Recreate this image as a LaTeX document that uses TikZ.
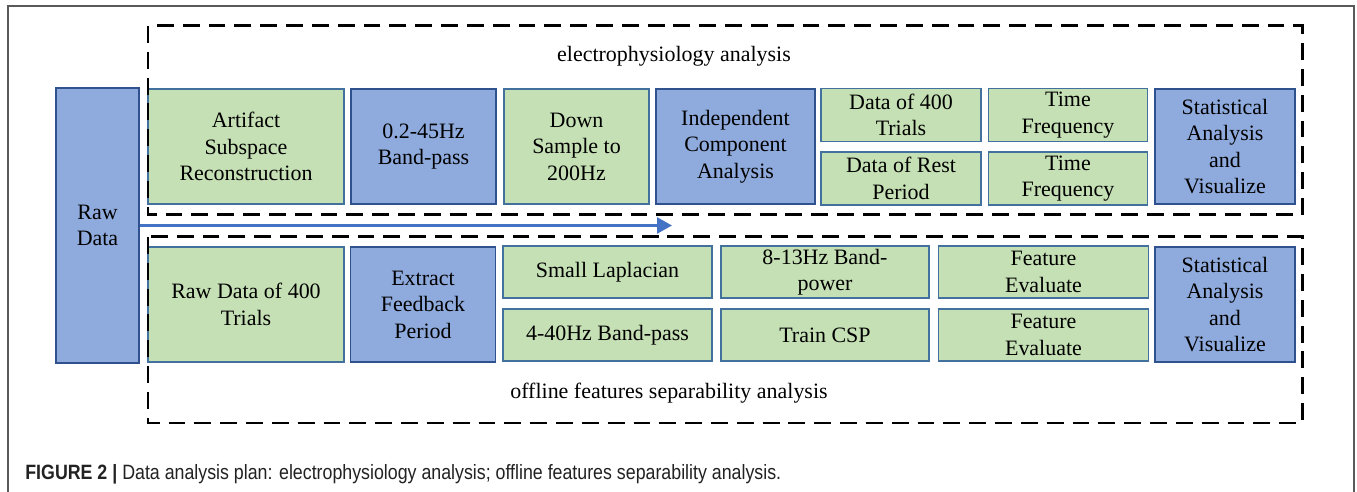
\documentclass[tikz,border=0pt]{standalone}
\usepackage{fontspec}
\setmainfont{Liberation Serif}
\newfontfamily\capfont{Liberation Sans}
\usetikzlibrary{arrows.meta}

\definecolor{boxblue}{HTML}{8FAADC}
\definecolor{edgeblue}{HTML}{2F528F}
\definecolor{boxgreen}{HTML}{C5E0B4}
\definecolor{edgegreen}{HTML}{41719C}
\definecolor{arrowblue}{HTML}{4472C4}
\definecolor{framegray}{HTML}{5A5A5A}
\definecolor{capgray}{HTML}{222222}

\tikzset{
  proc/.style={draw, line width=1.1pt, inner sep=0pt, align=center,
    font=\rmfamily\fontsize{12.5}{15.1}\selectfont},
  bluebox/.style={proc, fill=boxblue, draw=edgeblue},
  greenbox/.style={proc, fill=boxgreen, draw=edgegreen},
  groupbox/.style={line width=1.7pt, dash pattern=on 9.6pt off 5.1pt},
  grouplabel/.style={font=\rmfamily\fontsize{12.5}{15.1}\selectfont},
  flowarrow/.style={arrowblue, line width=1.7pt, -{Triangle[length=8.5pt,width=9pt]}}
}

\begin{document}
\begin{tikzpicture}[x=0.02cm,y=-0.02cm]
\useasboundingbox (0,0) rectangle (1357,492);
\fill[white] (0,0) rectangle (1357,492);
\draw[framegray, line width=0.9pt] (8,492) -- (8,6) -- (1354,6) -- (1354,492);

\node[bluebox, minimum width=1.66cm, minimum height=5.50cm] (rawdata) at (97.5,225.5) {Raw\\Data};

% electrophysiology analysis
\node[greenbox, minimum width=3.92cm, minimum height=2.30cm] (asr) at (246,146.5) {Artifact\\Subspace\\Reconstruction};
\node[bluebox, minimum width=2.90cm, minimum height=2.30cm] (bandpass) at (423.5,146.5) {0.2-45Hz\\Band-pass};
\node[greenbox, minimum width=2.90cm, minimum height=2.30cm] (downsample) at (576.5,146.5) {Down\\Sample to\\200Hz};
\node[bluebox, minimum width=3.18cm, minimum height=2.30cm] (ica) at (735.5,146.5) {Independent\\Component\\Analysis};
\node[greenbox, minimum width=3.20cm, minimum height=1.06cm] (trials) at (901,115) {Data of 400\\Trials};
\node[greenbox, minimum width=3.20cm, minimum height=1.06cm] (rest) at (901,178.5) {Data of Rest\\Period};
\node[greenbox, minimum width=3.18cm, minimum height=1.06cm] (tftrials) at (1068,115) {Time\\Frequency};
\node[greenbox, minimum width=3.18cm, minimum height=1.06cm] (tfrest) at (1068,178.5) {Time\\Frequency};
\node[bluebox, minimum width=2.80cm, minimum height=2.30cm] (statephys) at (1225,146.5) {Statistical\\Analysis\\and\\Visualize};

% offline features separability analysis
\node[greenbox, minimum width=3.92cm, minimum height=2.30cm] (rawtrials) at (246,304.5) {Raw Data of 400\\Trials};
\node[bluebox, minimum width=2.90cm, minimum height=2.30cm] (extract) at (423,304.5) {Extract\\Feedback\\Period};
\node[greenbox, minimum width=4.18cm, minimum height=1.04cm] (laplacian) at (607.5,272) {Small Laplacian};
\node[greenbox, minimum width=4.18cm, minimum height=1.04cm] (bpfour) at (607.5,335) {4-40Hz Band-pass};
\node[greenbox, minimum width=4.16cm, minimum height=1.04cm] (bandpower) at (825,272) {8-13Hz Band-\\power};
\node[greenbox, minimum width=4.16cm, minimum height=1.04cm] (csp) at (825,335) {Train CSP};
\node[greenbox, minimum width=4.20cm, minimum height=1.04cm] (featpower) at (1043.5,272) {Feature\\Evaluate};
\node[greenbox, minimum width=4.20cm, minimum height=1.04cm] (featcsp) at (1043.5,335) {Feature\\Evaluate};
\node[bluebox, minimum width=2.80cm, minimum height=2.30cm] (statoffline) at (1225,304.5) {Statistical\\Analysis\\and\\Visualize};

\draw[groupbox] (148,26) rectangle (1302,215);
\draw[groupbox] (148,237) rectangle (1302,423);
\node[grouplabel] (ephys) at (674,56) {electrophysiology analysis};
\node[grouplabel] (offline) at (669,393) {offline features separability analysis};

\coordinate (arrowend) at (672,225.5);
\draw[flowarrow] (rawdata.east) -- (arrowend);

\node[anchor=west, inner sep=0pt, text=capgray] (caption) at (25,474)
  {\resizebox{15.12cm}{\height}{\capfont\fontsize{11.8}{14}\selectfont\textbf{FIGURE 2 |} Data analysis plan: electrophysiology analysis; offline features separability analysis.}};
%\draw[flowarrow] (rawdata.east) -- (asr.west);
\end{tikzpicture}
\end{document}
